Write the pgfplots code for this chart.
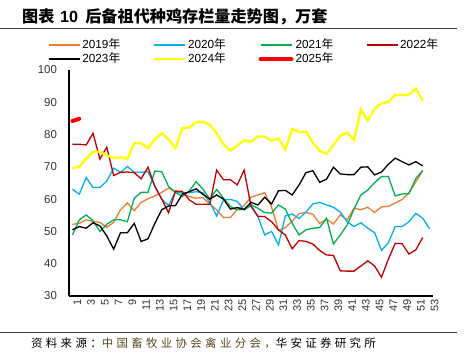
\documentclass[border=0pt]{standalone}
\usepackage{fontspec}
\setmainfont{Liberation Sans}
\newfontfamily\cjk{Noto Sans CJK SC}
\newfontfamily\cjksrc[LetterSpace=29]{Noto Sans CJK SC}
\usepackage{pgfplots}
\pgfplotsset{compat=1.18}
\definecolor{c19}{HTML}{ED7D31}
\definecolor{c20}{HTML}{00B0F0}
\definecolor{c21}{HTML}{00B050}
\definecolor{c22}{HTML}{C00000}
\definecolor{c23}{HTML}{000000}
\definecolor{c24}{HTML}{FFFF00}
\definecolor{c25}{HTML}{FF0000}
\definecolor{srcbrown}{HTML}{5C4A1E}
\begin{document}
\begin{tikzpicture}
\path[use as bounding box] (0bp,0bp) rectangle (466bp,354bp);
\node[anchor=west, inner sep=0pt, font=\bfseries\fontsize{16.2}{16.2}\selectfont] at (22bp,337bp) {{\cjk 图表}\hspace{0.35em}10\hspace{0.45em}{\cjk 后备祖代种鸡存栏量走势图，万套}};
\draw[line width=1bp, black!75] (0bp,325bp) -- (457bp,325bp);
\draw[line width=1bp, black!75] (0bp,21.7bp) -- (457bp,21.7bp);
\node[anchor=west, inner sep=0pt, font=\fontsize{11.5}{11.5}\selectfont] at (31bp,10.7bp) {\cjksrc 资料来源：\textcolor{srcbrown}{中国畜牧业协会禽业分会，}华安证券研究所};
\begin{axis}[
  at={(69bp,58bp)}, anchor=south west,
  scale only axis, width=364bp, height=226bp,
  xmin=0.5, xmax=53.5, ymin=30, ymax=100,
  axis x line*=bottom, axis y line*=left,
  axis line style={line width=1.1bp, black, -},
  xtick={1,3,...,53}, ytick={30,40,...,100},
  major tick length=0pt,
  /pgf/number format/assume math mode=true,
  tick label style={black!80},
  yticklabel style={font=\fontsize{11.5}{11.5}\selectfont, xshift=-8.5bp},
  xticklabel style={font=\fontsize{11}{11}\selectfont, rotate=90, anchor=east, yshift=-5bp},
  legend columns=4,
  legend cell align=left,
  legend image code/.code={\draw[#1] (0bp,0bp) -- (31bp,0bp);},
  legend style={draw=none, fill=none, at={(-0.058,1.142)}, anchor=north west,
    font=\fontsize{11.8}{11.8}\selectfont, inner sep=0pt,
    nodes={inner sep=2bp, text height=8.5bp, text depth=1.5bp},
    /tikz/every even column/.append style={column sep=30.5bp}},
]
\addplot[c19, line width=1.3bp] coordinates {
(1,52.2)(2,52.5)(3,53.6)(4,53.1)(5,52.8)(6,51.3)(7,52.8)(8,56.7)(9,58.8)(10,56.4)
(11,59.0)(12,60.1)(13,61.0)(14,62.1)(15,63.4)(16,62.3)(17,61.8)(18,60.8)(19,60.3)(20,60.5)
(21,58.5)(22,56.7)(23,54.3)(24,54.3)(25,56.8)(26,58.0)(27,60.6)(28,61.3)(29,62.0)(30,57.5)
(31,50.3)(32,51.2)(33,53.2)(34,55.5)(35,55.9)(36,55.3)(37,52.5)(38,53.8)(39,52.3)(40,55.1)
(41,53.6)(42,57.2)(43,56.7)(44,57.5)(45,55.9)(46,57.6)(47,57.8)(48,58.8)(49,59.9)(50,62.0)
(51,65.4)(52,68.7)};
\addlegendentry{2019{\cjk 年}}
\addplot[c20, line width=1.3bp] coordinates {
(1,63.1)(2,61.5)(3,66.7)(4,63.6)(5,63.6)(6,65.6)(7,69.6)(8,68.3)(9,70.1)(10,68.3)
(11,68.3)(12,68.5)(13,64.0)(14,60.0)(15,58.0)(16,62.3)(17,62.0)(18,62.0)(19,62.3)(20,62.0)
(21,59.0)(22,54.8)(23,59.8)(24,59.9)(25,59.3)(26,56.7)(27,58.0)(28,54.6)(29,48.9)(30,50.0)
(31,45.8)(32,54.8)(33,55.4)(34,54.0)(35,56.0)(36,58.5)(37,59.0)(38,58.2)(39,57.5)(40,56.0)
(41,53.0)(42,51.5)(43,52.7)(44,51.0)(45,49.6)(46,44.1)(47,46.5)(48,51.5)(49,51.5)(50,53.0)
(51,55.6)(52,54.1)(53,50.8)};
\addlegendentry{2020{\cjk 年}}
\addplot[c21, line width=1.3bp] coordinates {
(1,48.9)(2,53.6)(3,55.1)(4,53.3)(5,50.0)(6,52.2)(7,53.6)(8,53.6)(9,53.0)(10,60.3)
(11,62.1)(12,62.1)(13,68.7)(14,68.5)(15,63.9)(16,62.1)(17,60.8)(18,62.5)(19,65.4)(20,63.1)
(21,60.0)(22,63.0)(23,60.3)(24,57.7)(25,56.7)(26,56.8)(27,58.2)(28,57.2)(29,55.8)(30,55.7)
(31,58.2)(32,56.9)(33,52.5)(34,48.9)(35,50.5)(36,51.0)(37,51.2)(38,54.1)(39,46.1)(40,48.9)
(41,52.0)(42,56.9)(43,61.3)(44,62.8)(45,65.1)(46,67.0)(47,67.0)(48,61.0)(49,61.6)(50,61.7)
(51,66.4)(52,68.9)};
\addlegendentry{2021{\cjk 年}}
\addplot[c22, line width=1.3bp] coordinates {
(1,77.0)(2,77.0)(3,76.8)(4,80.4)(5,72.4)(6,76.1)(7,67.3)(8,68.3)(9,68.4)(10,68.2)
(11,66.3)(12,69.9)(13,64.0)(14,60.0)(15,55.8)(16,62.5)(17,62.4)(18,59.8)(19,58.4)(20,58.4)
(21,58.4)(22,69.0)(23,66.0)(24,66.0)(25,64.4)(26,69.0)(27,57.8)(28,54.7)(29,54.6)(30,53.0)
(31,50.5)(32,48.9)(33,44.6)(34,47.2)(35,46.9)(36,46.1)(37,44.1)(38,42.7)(39,42.6)(40,37.8)
(41,37.7)(42,37.7)(43,39.3)(44,40.9)(45,39.3)(46,35.8)(47,41.4)(48,46.3)(49,46.2)(50,43.0)
(51,44.3)(52,48.1)};
\addlegendentry{2022{\cjk 年}}
\addplot[c23, line width=1.3bp] coordinates {
(1,50.5)(2,51.5)(3,51.0)(4,52.7)(5,51.7)(6,48.6)(7,44.5)(8,49.6)(9,49.6)(10,52.5)
(11,46.9)(12,47.7)(13,52.5)(14,56.7)(15,57.9)(16,58.0)(17,61.5)(18,62.3)(19,63.2)(20,61.5)
(21,60.0)(22,61.3)(23,60.0)(24,56.9)(25,57.4)(26,56.8)(27,59.0)(28,58.2)(29,60.6)(30,58.5)
(31,62.6)(32,62.7)(33,61.3)(34,64.4)(35,68.2)(36,68.8)(37,65.2)(38,66.2)(39,69.9)(40,67.8)
(41,67.6)(42,67.6)(43,69.9)(44,70.0)(45,67.5)(46,68.4)(47,70.8)(48,72.7)(49,71.6)(50,70.6)
(51,71.6)(52,70.3)};
\addlegendentry{2023{\cjk 年}}
\addplot[c24, line width=2.3bp] coordinates {
(1,69.6)(2,70.0)(3,72.5)(4,74.7)(5,74.7)(6,73.5)(7,72.8)(8,73.0)(9,72.4)(10,77.3)
(11,77.3)(12,75.8)(13,78.5)(14,80.4)(15,78.5)(16,75.8)(17,82.0)(18,82.2)(19,83.8)(20,84.0)
(21,83.0)(22,80.4)(23,77.0)(24,75.0)(25,76.6)(26,78.2)(27,77.8)(28,79.4)(29,79.4)(30,78.1)
(31,78.8)(32,75.4)(33,81.7)(34,80.8)(35,80.9)(36,77.5)(37,75.0)(38,74.0)(39,76.8)(40,79.6)
(41,80.6)(42,78.3)(43,87.8)(44,84.3)(45,88.1)(46,89.7)(47,90.1)(48,92.3)(49,92.2)(50,92.4)
(51,94.3)(52,90.5)};
\addlegendentry{2024{\cjk 年}}
\addplot[c25, line width=4bp, line cap=round] coordinates {(1,84.2)(2,84.9)};
\addlegendentry{2025{\cjk 年}}
\end{axis}
\end{tikzpicture}
\end{document}
